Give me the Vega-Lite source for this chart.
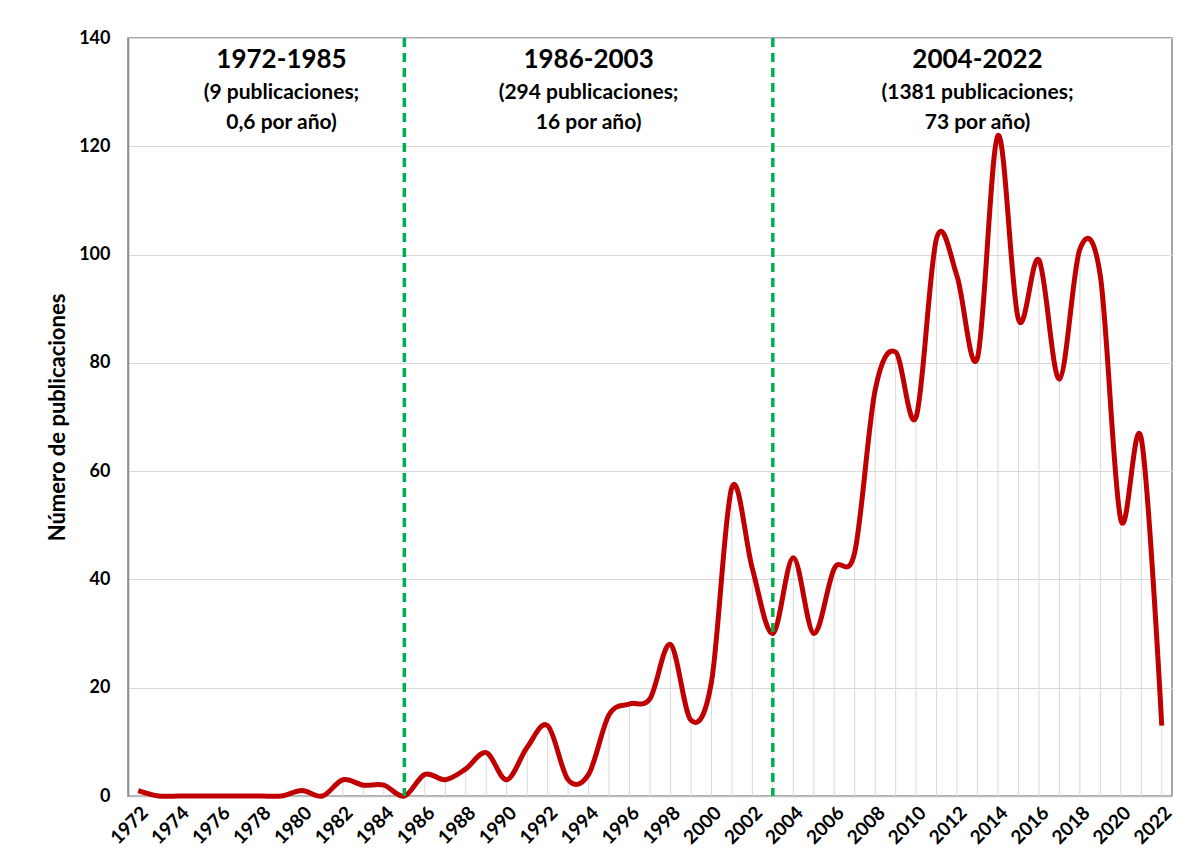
{
  "$schema": "https://vega.github.io/schema/vega-lite/v6.json",
  "width": 1044,
  "height": 758,
  "autosize": "none",
  "padding": {"left": 128, "top": 38, "right": 20, "bottom": 72},
  "background": "white",
  "config": {
    "view": {"stroke": "#8c8c8c", "strokeWidth": 1.5},
    "font": "Lato"
  },
  "datasets": {
    "pubs": [
      {"year": 1972, "n": 1}, {"year": 1973, "n": 0}, {"year": 1974, "n": 0}, {"year": 1975, "n": 0},
      {"year": 1976, "n": 0}, {"year": 1977, "n": 0}, {"year": 1978, "n": 0}, {"year": 1979, "n": 0},
      {"year": 1980, "n": 1}, {"year": 1981, "n": 0}, {"year": 1982, "n": 3}, {"year": 1983, "n": 2},
      {"year": 1984, "n": 2}, {"year": 1985, "n": 0}, {"year": 1986, "n": 4}, {"year": 1987, "n": 3},
      {"year": 1988, "n": 5}, {"year": 1989, "n": 8}, {"year": 1990, "n": 3}, {"year": 1991, "n": 9},
      {"year": 1992, "n": 13}, {"year": 1993, "n": 3}, {"year": 1994, "n": 4}, {"year": 1995, "n": 15},
      {"year": 1996, "n": 17}, {"year": 1997, "n": 18}, {"year": 1998, "n": 28}, {"year": 1999, "n": 14},
      {"year": 2000, "n": 21}, {"year": 2001, "n": 57}, {"year": 2002, "n": 42}, {"year": 2003, "n": 30},
      {"year": 2004, "n": 44}, {"year": 2005, "n": 30}, {"year": 2006, "n": 42}, {"year": 2007, "n": 45},
      {"year": 2008, "n": 75}, {"year": 2009, "n": 82}, {"year": 2010, "n": 70}, {"year": 2011, "n": 103},
      {"year": 2012, "n": 96}, {"year": 2013, "n": 81}, {"year": 2014, "n": 122}, {"year": 2015, "n": 88},
      {"year": 2016, "n": 99}, {"year": 2017, "n": 77}, {"year": 2018, "n": 101}, {"year": 2019, "n": 96},
      {"year": 2020, "n": 51}, {"year": 2021, "n": 66}, {"year": 2022, "n": 13}
    ],
    "periods": [
      {"year": 1979, "title": "1972-1985", "sub": ["(9 publicaciones;", "0,6 por año)"], "ty": 136, "sy": 129.8},
      {"year": 1994, "title": "1986-2003", "sub": ["(294 publicaciones;", "16 por año)"], "ty": 136, "sy": 129.8},
      {"year": 2013, "title": "2004-2022", "sub": ["(1381 publicaciones;", "73 por año)"], "ty": 136, "sy": 129.8}
    ],
    "cuts": [{"year": 1985}, {"year": 2003}]
  },
  "layer": [
    {
      "data": {"name": "pubs"},
      "mark": {"type": "rule", "color": "#d9d9d9", "strokeWidth": 1},
      "encoding": {
        "x": {
          "field": "year", "type": "quantitative",
          "scale": {"domain": [1971.5, 2022.5], "nice": false, "zero": false},
          "axis": {
            "title": null, "grid": false, "ticks": false,
            "values": [1972,1974,1976,1978,1980,1982,1984,1986,1988,1990,1992,1994,1996,1998,2000,2002,2004,2006,2008,2010,2012,2014,2016,2018,2020,2022],
            "format": "d", "labelAngle": -45, "labelAlign": "right", "labelBaseline": "top",
            "labelFontSize": 19, "labelFontWeight": "bold", "labelColor": "#000000",
            "labelPadding": 7, "domainColor": "#bfbfbf", "domainWidth": 1.5, "labelFlush": false, "labelOverlap": false
          }
        },
        "y": {
          "field": "n", "type": "quantitative",
          "scale": {"domain": [0, 140], "nice": false},
          "axis": {
            "title": "Número de publicaciones", "titleFontSize": 22, "titleFontWeight": "bold",
            "titleColor": "#000000", "titlePadding": 9,
            "values": [0, 20, 40, 60, 80, 100, 120, 140],
            "labelFontSize": 18, "labelFontWeight": "bold", "labelColor": "#000000",
            "labelPadding": 18, "ticks": false, "gridColor": "#d9d9d9", "gridWidth": 1,
            "domainColor": "#8c8c8c", "domainWidth": 1.5
          }
        },
        "y2": {"datum": 0}
      }
    },
    {
      "data": {"name": "pubs"},
      "mark": {"type": "line", "color": "#C00000", "strokeWidth": 5, "interpolate": "cardinal"},
      "encoding": {
        "x": {"field": "year", "type": "quantitative"},
        "y": {"field": "n", "type": "quantitative"}
      }
    },
    {
      "data": {"name": "cuts"},
      "mark": {"type": "rule", "color": "#00B050", "strokeWidth": 3.5, "strokeDash": [9, 6]},
      "encoding": {
        "x": {"field": "year", "type": "quantitative"}
      }
    },
    {
      "data": {"name": "periods"},
      "mark": {"type": "text", "fontSize": 26, "fontWeight": "bold", "color": "#000000", "align": "center", "baseline": "middle"},
      "encoding": {
        "x": {"field": "year", "type": "quantitative"},
        "y": {"field": "ty", "type": "quantitative"},
        "text": {"field": "title"}
      }
    },
    {
      "data": {"name": "periods"},
      "mark": {"type": "text", "fontSize": 21, "fontWeight": "bold", "color": "#000000", "align": "center", "baseline": "middle", "lineHeight": 30},
      "encoding": {
        "x": {"field": "year", "type": "quantitative"},
        "y": {"field": "sy", "type": "quantitative"},
        "text": {"field": "sub"}
      }
    }
  ]
}
